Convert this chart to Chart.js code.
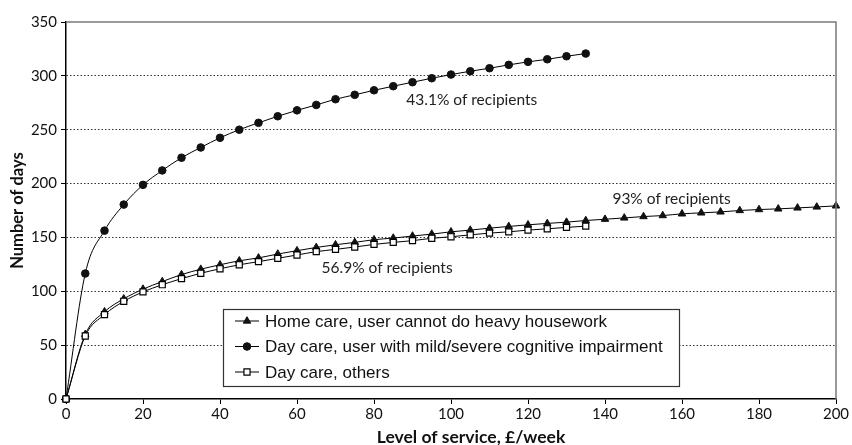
<!DOCTYPE html>
<html>
<head>
<meta charset="utf-8">
<script src="https://cdn.jsdelivr.net/npm/chart.js@4/dist/chart.umd.min.js"></script>
<style>
html,body{margin:0;padding:0;background:#fff;}
#wrap{width:852px;height:445px;}
</style>
</head>
<body>
<div id="wrap"><canvas id="c" width="852" height="445"></canvas></div>
<script>
// ---- data ----
const xHome = [0,5,10,15,20,25,30,35,40,45,50,55,60,65,70,75,80,85,90,95,100,105,110,115,120,125,130,135,140,145,150,155,160,165,170,175,180,185,190,195,200];
const homeCare = [0,60,81,93,102,109,115.5,120.5,124.6,128.3,131,134.6,137.7,140.7,143.2,145.4,147.9,149.4,151.3,153.1,155.2,156.8,158.6,160.2,161.7,163,164.2,165.7,166.9,168.1,169.4,170.3,171.9,172.8,173.7,175,175.9,176.5,177.4,178.3,179.3];
const xDay = [0,5,10,15,20,25,30,35,40,45,50,55,60,65,70,75,80,85,90,95,100,105,110,115,120,125,130,135];
const dayCareCognitive = [0,116.5,156.3,180.5,198.8,212.2,224,233.5,242.5,250,256.4,262.5,268,273,278.3,282.4,286.6,290.4,294.1,297.8,301.2,304.3,307.1,310.2,313,315.4,318.2,320.7];
const dayCareOthers = [0,58.5,78.3,90.7,99.4,106.1,111.7,116.7,120.9,124.6,127.5,130.6,133.7,136.8,138.9,141.1,143.5,145.4,147,149.2,150.6,152.4,154,155.2,156.8,158,159.3,160.5];
const seriesLabels = ["Home care, user cannot do heavy housework","Day care, user with mild/severe cognitive impairment","Day care, others"];
const xTicks = [0,20,40,60,80,100,120,140,160,180,200];
const yTicks = [0,50,100,150,200,250,300,350];
const annotationTexts = ["43.1% of recipients","93% of recipients","56.9% of recipients"];
const annotationAnchors = [[105.4,277.6],[157.3,185.7],[83.4,121.4]];
const xTitle = "Level of service, £/week";
const yTitle = "Number of days";

const pts = (xs, ys) => xs.map((x,i)=>({x:x,y:ys[i]}));

const TICKFONT = {family:"Lato, 'Open Sans', sans-serif", size:15};
const TITLEFONT = {family:"Lato, 'Open Sans', sans-serif", size:16.5, weight:'bold'};

const framePlugin = {
  id:'frame',
  afterDatasetsDraw(chart){
    const {ctx, chartArea:a} = chart;
    ctx.save();
    ctx.strokeStyle = '#7a7a7a';
    ctx.lineWidth = 1.5;
    ctx.beginPath();
    ctx.moveTo(a.left, a.top); ctx.lineTo(a.right, a.top); ctx.lineTo(a.right, a.bottom);
    ctx.stroke();
    // x axis title (offset to the right as in the original)
    ctx.fillStyle = '#111';
    ctx.font = "bold 17.5px Lato, 'Open Sans', sans-serif";
    ctx.textAlign = 'center'; ctx.textBaseline = 'middle';
    ctx.fillText(xTitle, (a.left + a.right) / 2 + 20, a.bottom + 38);
    // annotations
    const xs = chart.scales.x, ys = chart.scales.y;
    ctx.fillStyle = '#222';
    ctx.font = "15.5px Lato, 'Open Sans', sans-serif";
    annotationTexts.forEach((t,i)=>{
      ctx.fillText(t, xs.getPixelForValue(annotationAnchors[i][0]), ys.getPixelForValue(annotationAnchors[i][1]));
    });
    // legend box
    const L = 223, T = 309, W = 456, H = 77;
    ctx.fillStyle = '#fff';
    ctx.fillRect(L, T, W, H);
    ctx.strokeStyle = '#333';
    ctx.lineWidth = 1.2;
    ctx.strokeRect(L+0.5, T+0.5, W, H);
    [0,1,2].forEach((di,row)=>{
      const ds = chart.data.datasets[di];
      const cy = T + 12 + row*25.5;
      ctx.strokeStyle = '#000'; ctx.lineWidth = 1;
      ctx.beginPath(); ctx.moveTo(L+12, cy); ctx.lineTo(L+36, cy); ctx.stroke();
      ctx.fillStyle = ds.pointBackgroundColor;
      ctx.strokeStyle = ds.pointBorderColor;
      ctx.lineWidth = ds.pointBorderWidth;
      Chart.helpers.drawPoint(ctx, {pointStyle: ds.pointStyle, radius: ds.pointRadius, borderWidth: ds.pointBorderWidth, rotation:0}, L+24, cy);
      ctx.fillStyle = '#111';
      ctx.font = "17px 'Liberation Sans', Arial, sans-serif";
      ctx.textAlign = 'left';
      ctx.fillText(ds.label, L+42, cy+1);
    });
    ctx.restore();
  }
};

new Chart(document.getElementById('c'), {
  type:'line',
  data:{
    datasets:[
      {label:seriesLabels[0], data:pts(xHome,homeCare), pointStyle:'triangle', pointRadius:4.3,
       borderColor:'#000', borderWidth:1, pointBackgroundColor:'#111', pointBorderColor:'#111', pointBorderWidth:1,
       cubicInterpolationMode:'monotone', fill:false, order:3, clip:8},
      {label:seriesLabels[1], data:pts(xDay,dayCareCognitive), pointStyle:'circle', pointRadius:3.8,
       borderColor:'#000', borderWidth:1, pointBackgroundColor:'#111', pointBorderColor:'#111', pointBorderWidth:1,
       cubicInterpolationMode:'monotone', fill:false, order:2, clip:8},
      {label:seriesLabels[2], data:pts(xDay,dayCareOthers), pointStyle:'rect', pointRadius:4.3,
       borderColor:'#000', borderWidth:1, pointBackgroundColor:'#fff', pointBorderColor:'#000', pointBorderWidth:1.2,
       cubicInterpolationMode:'monotone', fill:false, order:1, clip:8}
    ]
  },
  options:{
    responsive:false, animation:false,
    layout:{padding:{left:0,right:16,top:22,bottom:0}},
    plugins:{legend:{display:false}, tooltip:{enabled:false}},
    scales:{
      x:{type:'linear', min:0, max:200,
         afterBuildTicks(s){ s.ticks = xTicks.map(v=>({value:v})); },
         afterFit(s){ s.height = 46; },
         ticks:{color:'#111', font:TICKFONT, padding:1, maxRotation:0},
         grid:{drawOnChartArea:false, drawTicks:true, tickLength:5, tickColor:'#000'},
         border:{color:'#000', width:1.5},
         title:{display:false}
      },
      y:{type:'linear', min:0, max:350,
         afterBuildTicks(s){ s.ticks = yTicks.map(v=>({value:v})); },
         afterFit(s){ s.width = 66; },
         ticks:{color:'#111', font:TICKFONT, padding:4},
         grid:{drawTicks:true, tickLength:5, tickColor:'#000',
               color:(c)=> (c.tick && (c.tick.value===0 || c.tick.value===350)) ? 'rgba(0,0,0,0)' : '#333',
               lineWidth:1},
         border:{color:'#000', width:1.5, dash:[1.5,2]},
         title:{display:true, text:yTitle, color:'#111', font:TITLEFONT, padding:{top:8,bottom:0}}
      }
    }
  },
  plugins:[framePlugin]
});
</script>
</body>
</html>
